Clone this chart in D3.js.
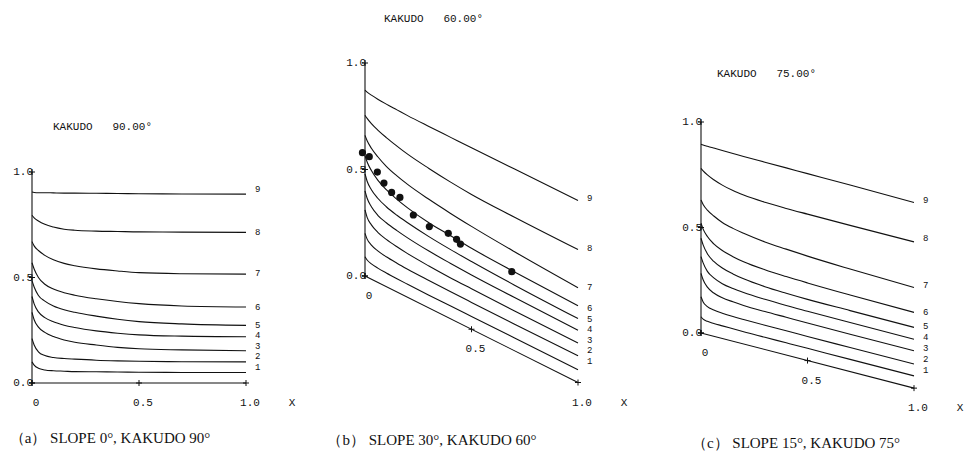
<!DOCTYPE html>
<html>
<head>
<meta charset="utf-8">
<script src="https://cdn.jsdelivr.net/npm/d3@7"></script>
<style>
    body { margin: 0; background: #fff; }
    .plot { font-family: "Liberation Mono", "DejaVu Sans Mono", monospace; font-size: 11px; fill: #111; white-space: pre; }
    .num { font-size: 9px; }
    .cap { font-family: "Liberation Serif", "DejaVu Serif", serif; font-size: 15px; fill: #111; }
</style>
</head>
<body>
<svg id="chart" width="967" height="452"></svg>
<script>
"use strict";
// x positions along the slope where each curve was read
const xs = [0, 0.01, 0.03, 0.06, 0.1, 0.15, 0.2, 0.3, 0.4, 0.5, 0.7, 1.0];
const curveNames = ["1", "2", "3", "4", "5", "6", "7", "8", "9"];
const xTicks = [0, 0.5, 1.0];
const xTickLabels = ["0", "0.5", "1.0"];
const yTicks = [0, 0.5, 1.0];
const yTickLabels = ["0.0", "0.5", "1.0"];

// (a) slope 0
const curvesA = [
    [0.10, 0.085, 0.07, 0.062, 0.058, 0.056, 0.054, 0.053, 0.052, 0.051, 0.05, 0.05],
    [0.21, 0.18, 0.148, 0.13, 0.121, 0.116, 0.113, 0.108, 0.105, 0.103, 0.101, 0.10],
    [0.335, 0.30, 0.265, 0.24, 0.22, 0.204, 0.193, 0.18, 0.169, 0.162, 0.157, 0.153],
    [0.41, 0.375, 0.337, 0.31, 0.29, 0.274, 0.263, 0.247, 0.236, 0.228, 0.222, 0.219],
    [0.485, 0.455, 0.415, 0.388, 0.365, 0.347, 0.335, 0.317, 0.302, 0.291, 0.28, 0.273],
    [0.57, 0.54, 0.50, 0.468, 0.445, 0.428, 0.416, 0.399, 0.386, 0.376, 0.365, 0.36],
    [0.67, 0.65, 0.628, 0.605, 0.584, 0.567, 0.556, 0.541, 0.531, 0.523, 0.518, 0.516],
    [0.795, 0.783, 0.768, 0.752, 0.739, 0.729, 0.724, 0.72, 0.718, 0.716, 0.715, 0.714],
    [0.905, 0.903, 0.902, 0.902, 0.901, 0.9, 0.9, 0.899, 0.898, 0.897, 0.896, 0.895]
];
const labelsA = [0.074, 0.126, 0.175, 0.227, 0.277, 0.36, 0.521, 0.716, 0.919];

// (b) slope 30
const curvesB = [
    [0.09, 0.08, 0.072, 0.067, 0.064, 0.062, 0.061, 0.06, 0.06, 0.06, 0.06, 0.06],
    [0.20, 0.178, 0.16, 0.148, 0.14, 0.135, 0.132, 0.129, 0.127, 0.126, 0.125, 0.125],
    [0.31, 0.28, 0.255, 0.235, 0.222, 0.212, 0.205, 0.197, 0.192, 0.19, 0.187, 0.185],
    [0.40, 0.37, 0.34, 0.315, 0.30, 0.288, 0.279, 0.267, 0.26, 0.255, 0.25, 0.245],
    [0.48, 0.45, 0.42, 0.395, 0.375, 0.36, 0.35, 0.335, 0.325, 0.318, 0.308, 0.30],
    [0.565, 0.54, 0.51, 0.48, 0.455, 0.435, 0.42, 0.40, 0.39, 0.38, 0.37, 0.36],
    [0.66, 0.64, 0.615, 0.59, 0.565, 0.545, 0.53, 0.51, 0.495, 0.483, 0.465, 0.445],
    [0.755, 0.745, 0.73, 0.715, 0.70, 0.685, 0.672, 0.655, 0.642, 0.633, 0.627, 0.624],
    [0.873, 0.868, 0.864, 0.86, 0.857, 0.855, 0.853, 0.852, 0.852, 0.852, 0.853, 0.855]
];
const labelsB = [0.101, 0.151, 0.2, 0.25, 0.3, 0.35, 0.448, 0.631, 0.866];
// measured points plotted on (b)
const pointsBx = [-0.012, 0.02, 0.058, 0.089, 0.125, 0.164, 0.227, 0.302, 0.391, 0.43, 0.448, 0.689];
const pointsBy = [0.573, 0.57, 0.517, 0.481, 0.455, 0.451, 0.40, 0.383, 0.396, 0.387, 0.374, 0.365];

// (c) slope 15
const curvesC = [
    [0.077, 0.068, 0.063, 0.061, 0.06, 0.059, 0.058, 0.058, 0.058, 0.058, 0.058, 0.058],
    [0.172, 0.15, 0.133, 0.125, 0.12, 0.117, 0.116, 0.115, 0.115, 0.114, 0.114, 0.114],
    [0.283, 0.255, 0.225, 0.205, 0.193, 0.187, 0.183, 0.18, 0.179, 0.178, 0.177, 0.177],
    [0.362, 0.335, 0.30, 0.277, 0.26, 0.25, 0.244, 0.238, 0.235, 0.234, 0.233, 0.232],
    [0.449, 0.42, 0.383, 0.355, 0.334, 0.319, 0.309, 0.298, 0.293, 0.29, 0.289, 0.288],
    [0.52, 0.495, 0.465, 0.438, 0.417, 0.401, 0.39, 0.378, 0.372, 0.368, 0.363, 0.359],
    [0.63, 0.612, 0.59, 0.57, 0.55, 0.535, 0.525, 0.51, 0.502, 0.495, 0.486, 0.477],
    [0.78, 0.771, 0.757, 0.742, 0.727, 0.714, 0.706, 0.698, 0.695, 0.694, 0.693, 0.693],
    [0.895, 0.894, 0.893, 0.892, 0.891, 0.89, 0.889, 0.888, 0.887, 0.886, 0.884, 0.88]
];
const labelsC = [0.088, 0.139, 0.19, 0.242, 0.294, 0.36, 0.488, 0.711, 0.891];

var svg = d3.select("#chart");

function drawPanel(p) {
    var g = svg.append("g");
    var xScale = d3.scaleLinear().domain([0, 1]).range([p.ox, p.ox + p.w]);
    var yScale = d3.scaleLinear().domain([0, 1]).range([p.oy, p.oy - p.h]);
    // the slope pulls the base line down to the right
    var drop = d3.scaleLinear().domain([0, 1]).range([0, p.w * Math.sin(p.slope * Math.PI / 180)]);
    var sy = (x, v) => yScale(v) + drop(x);

    g.append("text")
        .attr("class", "plot")
        .attr("x", p.tx)
        .attr("y", p.ty)
        .text(p.title);

    // y axis
    g.append("line")
        .attr("x1", xScale(0)).attr("y1", yScale(0))
        .attr("x2", xScale(0)).attr("y2", yScale(1))
        .attr("stroke", "#111").attr("stroke-width", 1.1);
    // x axis along the slope
    g.append("line")
        .attr("x1", xScale(0)).attr("y1", sy(0, 0))
        .attr("x2", xScale(1)).attr("y2", sy(1, 0))
        .attr("stroke", "#111").attr("stroke-width", 1.1);

    var cross = (cx, cy) => "M" + (cx - 3) + "," + cy + "h6M" + cx + "," + (cy - 3) + "v6";
    yTicks.forEach((t, i) => {
        g.append("path").attr("d", cross(xScale(0), yScale(t))).attr("stroke", "#111").attr("stroke-width", 1);
        g.append("text")
            .attr("class", "plot")
            .attr("x", xScale(0) + 1)
            .attr("y", yScale(t) + 3)
            .attr("text-anchor", "end")
            .text(yTickLabels[i]);
    });
    xTicks.forEach((t, i) => {
        g.append("path").attr("d", cross(xScale(t), sy(t, 0))).attr("stroke", "#111").attr("stroke-width", 1);
        g.append("text")
            .attr("class", "plot")
            .attr("x", xScale(t) + 4)
            .attr("y", sy(t, 0) + 23)
            .attr("text-anchor", "middle")
            .text(xTickLabels[i]);
    });
    g.append("text")
        .attr("class", "plot")
        .attr("x", xScale(1) + 46)
        .attr("y", sy(1, 0) + 23)
        .attr("text-anchor", "middle")
        .text("X");

    var line = d3.line()
        .x((d, i) => xScale(xs[i]))
        .y((d, i) => sy(xs[i], d))
        .curve(d3.curveMonotoneX);
    g.selectAll("path.curve")
        .data(p.curves)
        .enter()
        .append("path")
        .attr("class", "curve")
        .attr("d", line)
        .attr("fill", "none")
        .attr("stroke", "#111")
        .attr("stroke-width", 1.1);

    g.selectAll("text.num")
        .data(p.labels)
        .enter()
        .append("text")
        .attr("class", "plot num")
        .attr("x", xScale(1) + 9)
        .attr("y", d => sy(1, d) + 3)
        .text((d, i) => curveNames[i]);

    if (p.px) {
        g.selectAll("circle")
            .data(p.px)
            .enter()
            .append("circle")
            .attr("cx", d => xScale(d))
            .attr("cy", (d, i) => sy(d, p.py[i]))
            .attr("r", 3.6)
            .attr("fill", "#111");
    }

    svg.append("text")
        .attr("class", "cap")
        .attr("x", p.cx)
        .attr("y", p.cy)
        .attr("text-anchor", "middle")
        .text(p.caption);
}

drawPanel({ ox: 32, oy: 383, w: 214, h: 211, slope: 0, curves: curvesA, labels: labelsA,
    title: "KAKUDO   90.00°", tx: 53, ty: 130, caption: "（a） SLOPE 0°, KAKUDO 90°", cx: 110, cy: 443 });
drawPanel({ ox: 365, oy: 276, w: 213, h: 213, slope: 30, curves: curvesB, labels: labelsB,
    px: pointsBx, py: pointsBy,
    title: "KAKUDO   60.00°", tx: 384, ty: 22, caption: "（b） SLOPE 30°, KAKUDO 60°", cx: 432, cy: 445 });
drawPanel({ ox: 701, oy: 333, w: 213, h: 211, slope: 15, curves: curvesC, labels: labelsC,
    title: "KAKUDO   75.00°", tx: 717, ty: 77, caption: "（c） SLOPE 15°, KAKUDO 75°", cx: 796, cy: 448 });
</script>
</body>
</html>
